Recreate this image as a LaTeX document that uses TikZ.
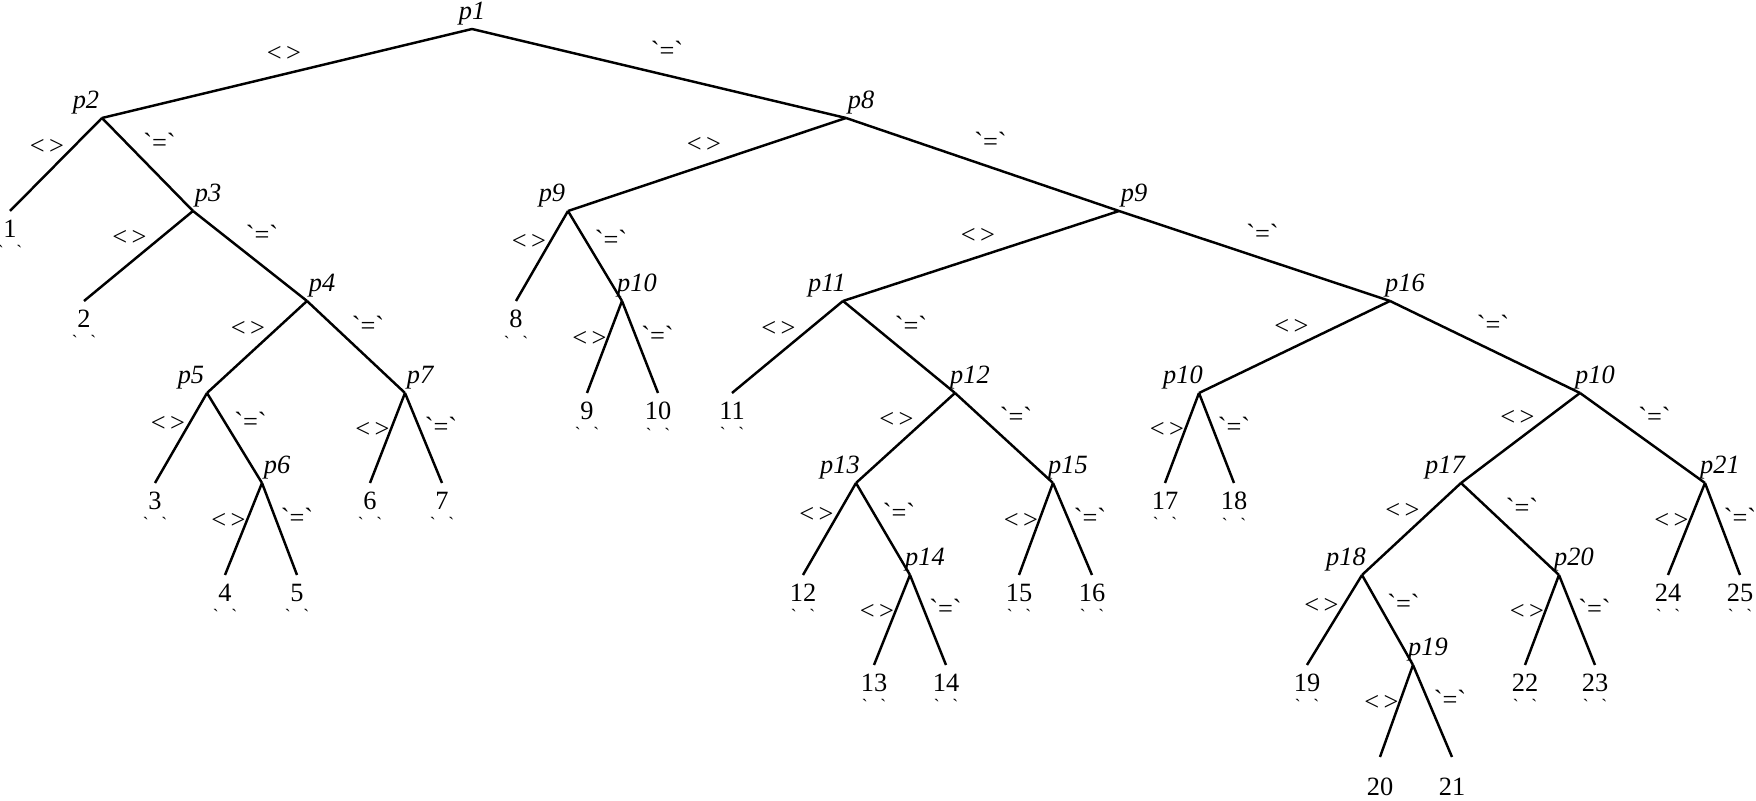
\documentclass[tikz,border=0pt]{standalone}
\usepackage{fontspec}
\setmainfont{Liberation Serif}

\newcommand{\ltgt}{<\,>}
\newcommand{\qeq}{\textasciigrave=\textasciigrave}
\newcommand{\leafticks}{{\tiny\textasciigrave\hspace{3.6pt}\textasciigrave}}

\begin{document}
\begin{tikzpicture}[x=0.01cm,y=-0.01cm,
                    every label/.style={inner sep=1pt,font=\fontsize{7.5}{9}\selectfont\itshape},
                    pc/.style={label={above:#1}},
                    pl/.style={label={[xshift=-0.16cm]above:#1}},
                    pr/.style={label={[xshift=0.15cm]above:#1}}]
\useasboundingbox (0,0) rectangle (1756,801);

\begin{scope}[every node/.style={inner sep=0pt,outer sep=0pt,minimum size=0pt}]
    \node[pc=p1] (p1) at (472,29) {};
    \node[pl=p2] (p2) at (102,118) {};
    \node[pr=p3] (p3) at (193,211) {};
    \node[pr=p4] (p4) at (307,301) {};
    \node[pl=p5] (p5) at (207,393) {};
    \node[pr=p6] (p6) at (262,483) {};
    \node[pr=p7] (p7) at (405,393) {};

    \node[pr=p8] (p8) at (846,118) {};
    \node[pl=p9] (p9a) at (568,211) {};
    \node[pr=p10] (p10a) at (622,301) {};
    \node[pr=p9] (p9b) at (1119,211) {};

    \node[pl=p11] (p11) at (843,301) {};
    \node[pr=p12] (p12) at (955,393) {};
    \node[pl=p13] (p13) at (856,483) {};
    \node[pr=p14] (p14) at (910,575) {};
    \node[pr=p15] (p15) at (1053,483) {};

    \node[pr=p16] (p16) at (1390,301) {};
    \node[pl=p10] (p10b) at (1199,393) {};
    \node[pr=p10] (p10c) at (1580,393) {};
    \node[pl=p17] (p17) at (1461,483) {};
    \node[pl=p18] (p18) at (1362,575) {};
    \node[pr=p19] (p19) at (1413,665) {};
    \node[pr=p20] (p20) at (1559,575) {};
    \node[pr=p21] (p21) at (1705,483) {};
\end{scope}

\begin{scope}[every node/.style={anchor=north,align=center,inner sep=2.4pt,
                                 font=\fontsize{7.5}{9}\selectfont},
              deep/.style={inner ysep=5.8pt}]
    \node (l1) at (10,211) {1\\[-3.2pt]\leafticks};
    \node (l2) at (84,301) {2\\[-3.2pt]\leafticks};
    \node (l3) at (155,483) {3\\[-3.2pt]\leafticks};
    \node (l4) at (225,575) {4\\[-3.2pt]\leafticks};
    \node (l5) at (297,575) {5\\[-3.2pt]\leafticks};
    \node (l6) at (370,483) {6\\[-3.2pt]\leafticks};
    \node (l7) at (442,483) {7\\[-3.2pt]\leafticks};
    \node (l8) at (516,301) {8\\[-3.2pt]\leafticks};
    \node (l9) at (587,393) {9\\[-3.2pt]\leafticks};
    \node (l10) at (658,393) {10\\[-3.2pt]\leafticks};
    \node (l11) at (732,393) {11\\[-3.2pt]\leafticks};
    \node (l12) at (803,575) {12\\[-3.2pt]\leafticks};
    \node (l13) at (874,665) {13\\[-3.2pt]\leafticks};
    \node (l14) at (946,665) {14\\[-3.2pt]\leafticks};
    \node (l15) at (1019,575) {15\\[-3.2pt]\leafticks};
    \node (l16) at (1092,575) {16\\[-3.2pt]\leafticks};
    \node (l17) at (1165,483) {17\\[-3.2pt]\leafticks};
    \node (l18) at (1234,483) {18\\[-3.2pt]\leafticks};
    \node (l19) at (1307,665) {19\\[-3.2pt]\leafticks};
    \node[deep] (l20) at (1380,757) {20};
    \node[deep] (l21) at (1452,757) {21};
    \node (l22) at (1525,665) {22\\[-3.2pt]\leafticks};
    \node (l23) at (1595,665) {23\\[-3.2pt]\leafticks};
    \node (l24) at (1668,575) {24\\[-3.2pt]\leafticks};
    \node (l25) at (1740,575) {25\\[-3.2pt]\leafticks};
\end{scope}

\begin{scope}[every edge/.style={draw=black,line width=0.7pt},
              every node/.style={font=\fontsize{7.5}{9}\selectfont,inner sep=0pt},
              lflat/.style={midway,xshift=-0.03cm,yshift=0.20cm},
              rflat/.style={midway,xshift=0.08cm,yshift=0.23cm},
              ldiag/.style={midway,xshift=-0.09cm,yshift=0.18cm},
              rdiag/.style={midway,xshift=0.12cm,yshift=0.22cm},
              lmed/.style={midway,xshift=-0.13cm,yshift=0.14cm},
              rmed/.style={midway,xshift=0.16cm,yshift=0.17cm},
              lsteep/.style={midway,xshift=-0.15cm,yshift=0.085cm},
              rsteep/.style={midway,xshift=0.175cm,yshift=0.12cm}]
    \path (p1) edge node[lflat] {\ltgt} (p2);
    \path (p1) edge node[rflat] {\qeq} (p8);

    \path (p2) edge node[ldiag] {\ltgt} (l1.north);
    \path (p2) edge node[rdiag] {\qeq} (p3);
    \path (p3) edge node[ldiag] {\ltgt} (l2.north);
    \path (p3) edge node[rdiag] {\qeq} (p4);
    \path (p4) edge node[ldiag] {\ltgt} (p5);
    \path (p4) edge node[rdiag] {\qeq} (p7);
    \path (p5) edge node[lmed] {\ltgt} (l3.north);
    \path (p5) edge node[rmed] {\qeq} (p6);
    \path (p6) edge node[lsteep] {\ltgt} (l4.north);
    \path (p6) edge node[rsteep] {\qeq} (l5.north);
    \path (p7) edge node[lsteep] {\ltgt} (l6.north);
    \path (p7) edge node[rsteep] {\qeq} (l7.north);

    \path (p8) edge node[lflat] {\ltgt} (p9a);
    \path (p8) edge node[rflat] {\qeq} (p9b);
    \path (p9a) edge node[lmed] {\ltgt} (l8.north);
    \path (p9a) edge node[rmed] {\qeq} (p10a);
    \path (p10a) edge node[lsteep] {\ltgt} (l9.north);
    \path (p10a) edge node[rsteep] {\qeq} (l10.north);

    \path (p9b) edge node[lflat] {\ltgt} (p11);
    \path (p9b) edge node[rflat] {\qeq} (p16);
    \path (p11) edge node[ldiag] {\ltgt} (l11.north);
    \path (p11) edge node[rdiag] {\qeq} (p12);
    \path (p12) edge node[ldiag] {\ltgt} (p13);
    \path (p12) edge node[rdiag] {\qeq} (p15);
    \path (p13) edge node[lmed] {\ltgt} (l12.north);
    \path (p13) edge node[rmed] {\qeq} (p14);
    \path (p14) edge node[lsteep] {\ltgt} (l13.north);
    \path (p14) edge node[rsteep] {\qeq} (l14.north);
    \path (p15) edge node[lsteep] {\ltgt} (l15.north);
    \path (p15) edge node[rsteep] {\qeq} (l16.north);

    \path (p16) edge node[lflat] {\ltgt} (p10b);
    \path (p16) edge node[rflat] {\qeq} (p10c);
    \path (p10b) edge node[lsteep] {\ltgt} (l17.north);
    \path (p10b) edge node[rsteep] {\qeq} (l18.north);
    \path (p10c) edge node[lflat] {\ltgt} (p17);
    \path (p10c) edge node[rdiag] {\qeq} (p21);
    \path (p17) edge node[ldiag] {\ltgt} (p18);
    \path (p17) edge node[rdiag] {\qeq} (p20);
    \path (p18) edge node[lmed] {\ltgt} (l19.north);
    \path (p18) edge node[rmed] {\qeq} (p19);
    \path (p19) edge node[lsteep] {\ltgt} (l20.north);
    \path (p19) edge node[rsteep] {\qeq} (l21.north);
    \path (p20) edge node[lsteep] {\ltgt} (l22.north);
    \path (p20) edge node[rsteep] {\qeq} (l23.north);
    \path (p21) edge node[lsteep] {\ltgt} (l24.north);
    \path (p21) edge node[rsteep] {\qeq} (l25.north);
\end{scope}
\end{tikzpicture}
\end{document}
